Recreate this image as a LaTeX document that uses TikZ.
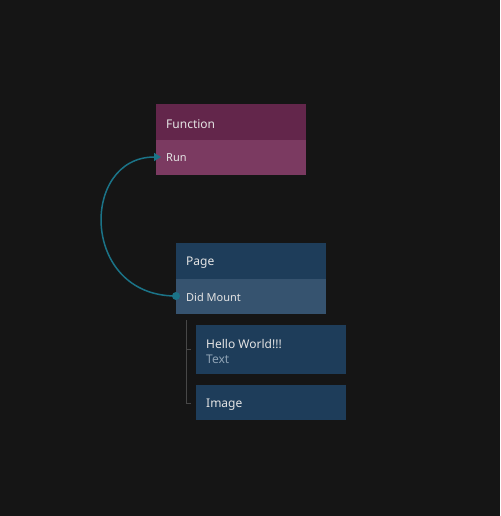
\documentclass[tikz,border=0pt]{standalone}
\usepackage{fontspec}
\setmainfont{Noto Sans}
\usetikzlibrary{arrows.meta}
\definecolor{bg}{HTML}{151515}
\definecolor{fnhead}{HTML}{63264B}
\definecolor{fnrow}{HTML}{7B3A61}
\definecolor{pghead}{HTML}{1E3D5A}
\definecolor{pgrow}{HTML}{36536F}
\definecolor{txt}{HTML}{E4E4E4}
\definecolor{subtxt}{HTML}{8FA3B5}
\definecolor{wire}{HTML}{1B7387}
\definecolor{tree}{HTML}{474747}
\tikzset{
  box/.style={anchor=north west, minimum width=150pt, inner sep=0pt, outer sep=0pt},
  label/.style={anchor=west, text=txt, font=\fontsize{12pt}{14pt}\selectfont, inner sep=0pt},
  small/.style={anchor=west, text=txt, font=\fontsize{11pt}{13pt}\selectfont, inner sep=0pt},
  treeline/.style={draw=tree, line width=1pt},
}
\begin{document}
\begin{tikzpicture}[x=1pt, y=-1pt]
  \fill[bg] (0,0) rectangle (500,516);
  \useasboundingbox (0,0) rectangle (500,516);

  % Function node
  \node[box, fill=fnhead, minimum height=36pt] (fn) at (156,104) {};
  \node[box, fill=fnrow, minimum height=35pt] (run) at (156,140) {};
  \node[label] (fnlbl) at (166,124) {Function};
  \node[small] (runlbl) at (166,158) {Run};

  % Page node
  \node[box, fill=pghead, minimum height=36pt] (pg) at (176,243) {};
  \node[box, fill=pgrow, minimum height=35pt] (mount) at (176,279) {};
  \node[label] (pglbl) at (186,263) {Page};
  \node[small] (mountlbl) at (186,297) {Did Mount};

  % Children
  \node[box, fill=pghead, minimum height=49pt] (hello) at (196,325) {};
  \node[label] (hellolbl) at (206,344.5) {Hello World!!!};
  \node[label, text=subtxt] (hellosub) at (206,359.5) {Text};
  \node[box, fill=pghead, minimum height=35pt] (img) at (196,385) {};
  \node[label] (imglbl) at (206,404.5) {Image};

  % Tree guides
  \coordinate (ttop) at (186,320);
  \coordinate (tbot) at (186,403);
  \coordinate (tmid) at (186,349);
  \draw[treeline] (ttop) -- (tbot) -- ++(5,0);
  \draw[treeline] (tmid) -- ++(5,0);

  % Signal wire
  \coordinate (src) at (176,296);
  \coordinate (dst) at (161,157);
  \draw[wire, line width=1.5pt, -{Triangle[length=7pt,width=8pt]}]
    (src) .. controls (80,296) and (80,157) .. (dst);
  \fill[wire] (src) circle (4pt);
\end{tikzpicture}
\end{document}
